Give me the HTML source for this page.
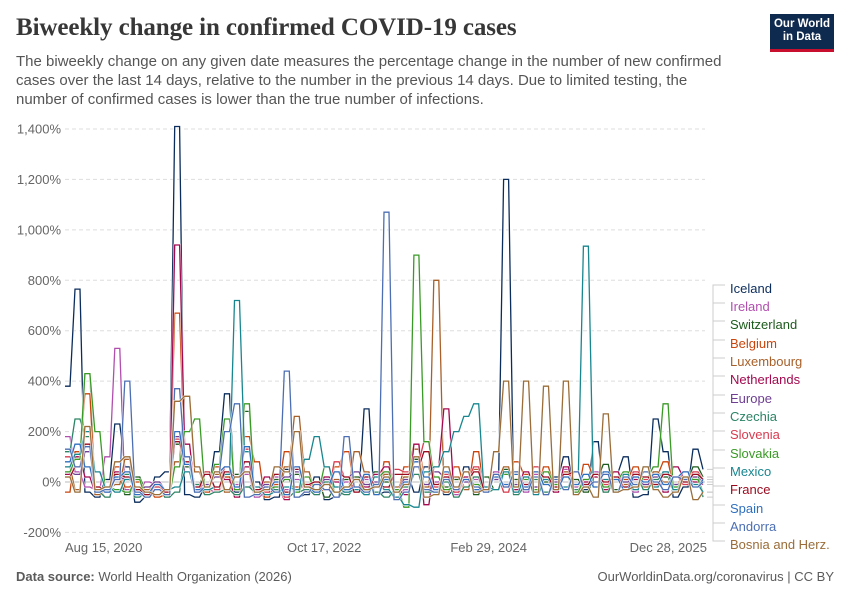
<!DOCTYPE html>
<html><head><meta charset="utf-8"><style>
body{margin:0;background:#fff;font-family:"Liberation Sans",sans-serif;}
#wrap{position:relative;width:850px;height:600px;overflow:hidden;}
h1{position:absolute;left:16px;top:14px;margin:0;font-family:"Liberation Serif",serif;font-weight:bold;font-size:25px;color:#373737;letter-spacing:-0.1px}
.sub{position:absolute;left:16px;top:52px;width:725px;font-size:15px;line-height:19px;color:#555}
.logo{position:absolute;left:770px;top:14px;width:64px;height:38px;background:#0f2a4f;color:#fff;font-size:11.5px;font-weight:bold;line-height:13px;text-align:center;padding-top:4px;box-sizing:border-box;border-bottom:3px solid #c8102e}
.foot{position:absolute;top:569px;font-size:13px;color:#5b5b5b}
</style></head><body><div id="wrap">
<h1>Biweekly change in confirmed COVID-19 cases</h1>
<div class="sub">The biweekly change on any given date measures the percentage change in the number of new confirmed cases over the last 14 days, relative to the number in the previous 14 days. Due to limited testing, the number of confirmed cases is lower than the true number of infections.</div>
<div class="logo">Our World<br>in Data</div>
<svg id="chart" width="850" height="600" style="position:absolute;left:0;top:0"></svg>
<div class="foot" style="left:16px"><b>Data source:</b> World Health Organization (2026)</div>
<div class="foot" style="right:16px">OurWorldinData.org/coronavirus | CC BY</div>
</div>
<script>
const yTicks=[-200,0,200,400,600,800,1000,1200,1400];
const xTickLabels=["Aug 15, 2020","Oct 17, 2022","Feb 29, 2024","Dec 28, 2025"];
const xTickMonths=[0,26,42.5,64.4];
const names=["Iceland","Ireland","Switzerland","Belgium","Luxembourg","Netherlands","Europe","Czechia","Slovenia","Slovakia","Mexico","France","Spain","Andorra","Bosnia and Herz."];
const colors=["#0b2d5c","#b14fae","#1d5a1d","#c9450d","#a8602a","#a4094f","#6d3e91","#2c8465","#d73c50","#3a9a26","#18868f","#9a0a1f","#2f6fbf","#4c6fb3","#9a6d39"];
const sIceland=[380,765,-40,-60,10,230,60,-80,-60,20,40,1410,-50,-60,-20,120,350,-40,-20,0,-70,-60,50,-60,-50,20,-70,-60,-30,-40,290,-50,-40,-60,20,-40,60,0,-50,-30,60,-40,-30,10,1200,-40,-30,60,-50,20,100,-40,-30,160,-40,40,100,-60,-50,250,120,-60,-20,130,50];
const sIreland=[180,40,-20,-30,100,530,-30,-40,0,-10,-40,150,60,-20,-30,-40,20,-10,30,-60,-40,20,-30,10,-20,-50,20,-40,0,-30,10,-20,40,-60,-30,60,-20,0,20,-50,-20,10,-30,40,-20,10,-40,30,-10,-30,50,-20,0,40,-30,20,10,-40,60,-10,30,-20,40,0,-10];
const sSwitzerland=[60,100,430,-20,-40,30,-50,20,-30,0,-40,150,60,-10,40,-30,20,30,280,-40,-20,10,-40,30,-20,0,-60,-20,10,20,-30,40,0,-30,20,90,-40,20,-20,10,40,-50,20,-30,50,10,-20,60,0,-30,40,10,-40,20,70,-30,0,30,-10,40,20,-30,10,60,20];
const sBelgium=[-40,120,350,-30,-60,60,-20,0,-30,-60,-50,670,80,-20,-40,60,20,-30,180,80,-60,-10,120,-20,40,-40,-30,60,120,-40,20,-50,80,-30,60,150,20,-20,-40,60,-20,120,-30,20,-40,80,30,-20,60,-10,20,-40,70,20,-30,40,10,60,-20,30,80,-10,40,20,0];
const sLuxembourg=[60,-30,220,-50,-30,-10,90,-40,-30,0,-60,80,340,40,-20,30,-40,20,80,-30,0,-20,60,260,40,-40,-30,10,-20,120,40,-50,30,-20,20,130,-20,800,-40,20,-30,50,-20,10,60,-30,20,-40,10,-20,40,-30,0,20,-40,10,-10,30,-20,40,0,-30,20,10,-10];
const sNetherlands=[30,100,20,-40,-20,40,10,-30,-40,-10,-60,940,150,-30,-20,40,10,-60,60,-40,20,-30,-70,60,-40,-30,20,0,-40,10,-20,30,60,-30,-50,150,-90,60,290,-40,20,-30,-20,20,-10,-30,40,-20,10,-40,60,-30,0,20,-30,40,-20,10,-10,30,-40,60,20,0,-10];
const sEurope=[40,30,120,-20,-40,20,10,-30,-20,0,-30,180,40,-20,-10,20,60,-20,80,-30,-10,0,20,40,-10,-30,10,-20,20,40,-10,0,20,-30,10,60,-10,40,20,-20,0,20,-20,10,30,-10,20,-20,10,0,20,-10,10,30,-20,10,0,20,-10,20,30,-10,10,20,0];
const sCzechia=[120,250,180,-40,-60,20,30,-60,-40,-20,-60,-40,100,-10,-50,-40,-30,-50,-20,-40,-20,-30,-60,-40,-30,-50,0,-40,-50,-20,30,-40,-60,-30,-20,30,-40,-40,0,-60,-20,20,-40,-30,30,-50,-20,10,-40,-20,20,-30,-10,30,-40,10,-20,20,-30,10,40,-20,0,30,-60];
const sSlovenia=[100,60,200,-20,-40,10,40,-30,-50,-20,-40,170,100,-40,40,-30,60,20,130,-20,-40,30,-60,60,-20,0,-30,80,20,-40,30,-10,-30,50,40,80,160,-20,30,-40,10,60,-30,20,-40,40,-20,60,10,-30,20,40,-20,30,-10,20,-30,40,10,-20,30,20,-10,40,10];
const sSlovakia=[40,90,430,200,-20,-30,-40,10,-60,-30,-50,60,200,250,-20,70,250,-30,310,-50,-30,-20,10,-40,20,-30,60,-40,-20,10,-50,20,40,-30,-100,900,160,20,-30,-20,40,-10,-40,20,30,-20,10,-30,40,-10,20,-40,10,30,-20,10,40,-30,20,60,310,-20,20,10,-40];
const sMexico=[60,110,200,40,-20,-40,10,-30,-40,-10,-30,-20,40,-40,-30,-20,30,720,120,-20,-50,-40,-20,-30,90,180,60,-20,-40,-30,-50,20,-30,-60,-90,-100,40,60,120,200,260,310,-20,-30,40,-40,20,-50,10,-30,-20,40,935,-20,10,-40,30,-30,60,-20,40,-30,20,-10,-40];
const sFrance=[20,60,150,-20,-40,30,20,-30,-50,-10,-40,160,80,-20,30,-20,40,20,80,-30,-20,30,-40,50,-10,0,-30,40,20,-40,20,-10,-20,30,30,60,120,-10,20,-30,10,40,-30,30,-20,40,-10,40,20,-20,30,40,-10,30,0,20,-20,30,20,-10,30,20,0,30,10];
const sSpain=[80,150,60,-30,-40,20,40,-50,-40,-10,-30,200,70,-30,-20,40,60,-20,140,-40,-30,0,-50,60,-20,-40,-10,40,-30,-20,30,-50,10,-40,0,80,20,-30,40,-20,10,-30,-40,20,-10,30,-20,40,-10,-30,20,-10,30,-20,40,10,-30,20,0,30,-10,20,40,-20,10];
const sAndorra=[130,60,140,-40,-30,10,400,-40,-60,-30,-50,370,100,-40,-20,40,200,310,-60,-50,-20,-40,440,-60,-40,-10,-30,-60,180,-20,-40,-10,1070,-70,-40,60,-30,-40,10,-30,40,-20,-40,30,-20,40,-30,20,-50,10,-30,40,-20,0,30,-40,20,-10,40,0,-30,20,10,-20,0];
const sBosnia=[20,-40,220,-30,-20,80,100,-20,-40,-50,-30,320,340,60,-20,40,-30,20,40,-40,-30,60,40,200,-20,-30,-10,-40,-20,10,-30,-20,20,-40,-10,100,-60,-50,60,-20,40,-40,-30,120,400,-20,400,-40,380,-30,400,-50,-20,-60,270,-40,-30,-20,60,-30,-60,-40,20,-70,-40];
const series=[sIceland,sIreland,sSwitzerland,sBelgium,sLuxembourg,sNetherlands,sEurope,sCzechia,sSlovenia,sSlovakia,sMexico,sFrance,sSpain,sAndorra,sBosnia];
const legendY=[289,307,325,344,362,380,399,417,435,454,472,490,509,527,545];

const svg=document.getElementById('chart');
const NS='http://www.w3.org/2000/svg';
const x0=65,x1=705,nMonths=64.2;
const xS=m=>x0+m*(x1-x0)/nMonths;
const yS=v=>482-v*(353/1400);
function mk(t,a){const e=document.createElementNS(NS,t);for(const k in a)e.setAttribute(k,a[k]);svg.appendChild(e);return e;}
yTicks.forEach(v=>{
 const l=mk('line',{x1:x0,x2:x1,y1:yS(v),y2:yS(v),stroke:v==0?'#bbb':'#ddd','stroke-dasharray':v==0?'':'4,3'});
 
 
 const t=mk('text',{x:61,y:yS(v)+4.5,'text-anchor':'end','font-size':13,fill:'#666'});
 t.textContent=v.toLocaleString('en-US')+'%';
 
 
});
xTickLabels.forEach((s,i)=>{
 const t=mk('text',{x:xS(xTickMonths[i]),y:552,'text-anchor':i==0?'start':(i==3?'end':'middle'),'font-size':13,fill:'#666'});
 t.textContent=s;
 
 
});
series.forEach((d,si)=>{
 let p='';
 d.forEach((v,i)=>{const x=xS(i),y=yS(v);p+=(i?'L':'M')+x.toFixed(1)+','+y.toFixed(1);if(i<d.length-1)p+='L'+(xS(i+0.5)).toFixed(1)+','+y.toFixed(1);});
 const h=mk('path',{d:p,fill:'none',stroke:'#fff','stroke-width':2.6,opacity:0.7});
 
 
 const l=mk('path',{d:p,fill:'none',stroke:colors[si],'stroke-width':1.3});
 
 
 const last=d[d.length-1];
 const c=mk('path',{d:`M${x1+2},${yS(last)}L${x1+8},${yS(last)}L${x1+8},${legendY[si]-4}L${x1+20},${legendY[si]-4}`,fill:'none',stroke:'#ccc','stroke-width':1});
 
 
 const t=mk('text',{x:730,y:legendY[si]+4,'font-size':13,fill:colors[si]});
 t.textContent=names[si];
 
 
});
</script></body></html>
